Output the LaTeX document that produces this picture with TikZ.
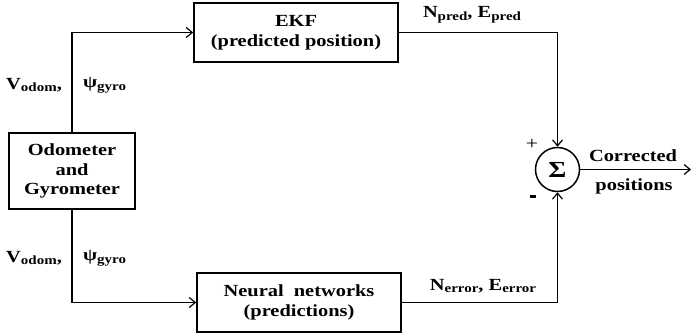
\documentclass[tikz,border=0pt]{standalone}
\usepackage{fontspec}
\setmainfont{Liberation Serif}[FakeStretch=1.2]
\usetikzlibrary{arrows.meta}

% subscript in a smaller bold face
\newcommand{\lowidx}[1]{\raisebox{-0.35ex}{\fontsize{12.5}{12.5}\selectfont\bfseries #1}}

\tikzset{
  blk/.style={draw, line width=1.7pt, align=center, inner sep=0pt,
              font=\fontsize{17}{19.5}\selectfont\bfseries},
  sumnode/.style={draw, circle, line width=1.5pt, minimum size=44pt, inner sep=0pt,
                  font=\fontsize{23}{23}\selectfont\bfseries},
  arr/.style={line width=1.2pt, -{Straight Barb[length=6pt,width=10pt,line width=1.2pt]}},
  lbl/.style={font=\fontsize{17}{18}\selectfont\bfseries, inner sep=0pt},
  txt/.style={font=\fontsize{17}{20}\selectfont\bfseries, align=center, inner sep=0pt}
}

\begin{document}
\begin{tikzpicture}[x=1pt,y=-1pt]
  \useasboundingbox (0,0) rectangle (692,335);

  % blocks
  \node[blk, minimum width=126pt, minimum height=76pt] (odo) at (72,171)
    {Odometer\\and\\Gyrometer};
  \node[blk, minimum width=204pt, minimum height=59pt] (ekf) at (296,32.5)
    {EKF\\(predicted position)};
  \node[blk, minimum width=204pt, minimum height=59pt] (nn) at (299,302.5)
    {Neural\ \ networks\\(predictions)};
  \node[sumnode] (sum) at (557.5,169.5) {\char"03A3};
  \coordinate (out) at (691,169.5);

  % signal flow
  \draw[arr] (odo.north) |- (ekf.west);
  \draw[arr] (odo.south) |- (nn.west);
  \draw[arr] (ekf.east) -| (sum.north);
  \draw[arr] (nn.east) -| (sum.south);
  \draw[arr] (sum.east) -- (out);

  % signal labels
  \node[lbl, anchor=west] (vu) at (6,85) {V\lowidx{odom},};
  \node[lbl, anchor=west] (pu) at (83,85) {\char"03C8\lowidx{gyro}};
  \node[lbl, anchor=west] (vl) at (6,258) {V\lowidx{odom},};
  \node[lbl, anchor=west] (pl) at (83,258) {\char"03C8\lowidx{gyro}};
  \node[lbl] (npe) at (472,15) {N\lowidx{pred}, E\lowidx{pred}};
  \node[lbl] (nee) at (483,286) {N\lowidx{error}, E\lowidx{error}};

  % signs at the summing junction
  \node[font=\fontsize{18}{18}\selectfont, inner sep=0pt] (plus) at (532,144) {+};
  \node[inner sep=0pt] (minus) at (533,196) {\rule{6pt}{3pt}};

  % output text
  \node[txt] (corr) at (633,156) {Corrected};
  \node[txt] (pos) at (634,186) {positions};
\end{tikzpicture}
\end{document}
